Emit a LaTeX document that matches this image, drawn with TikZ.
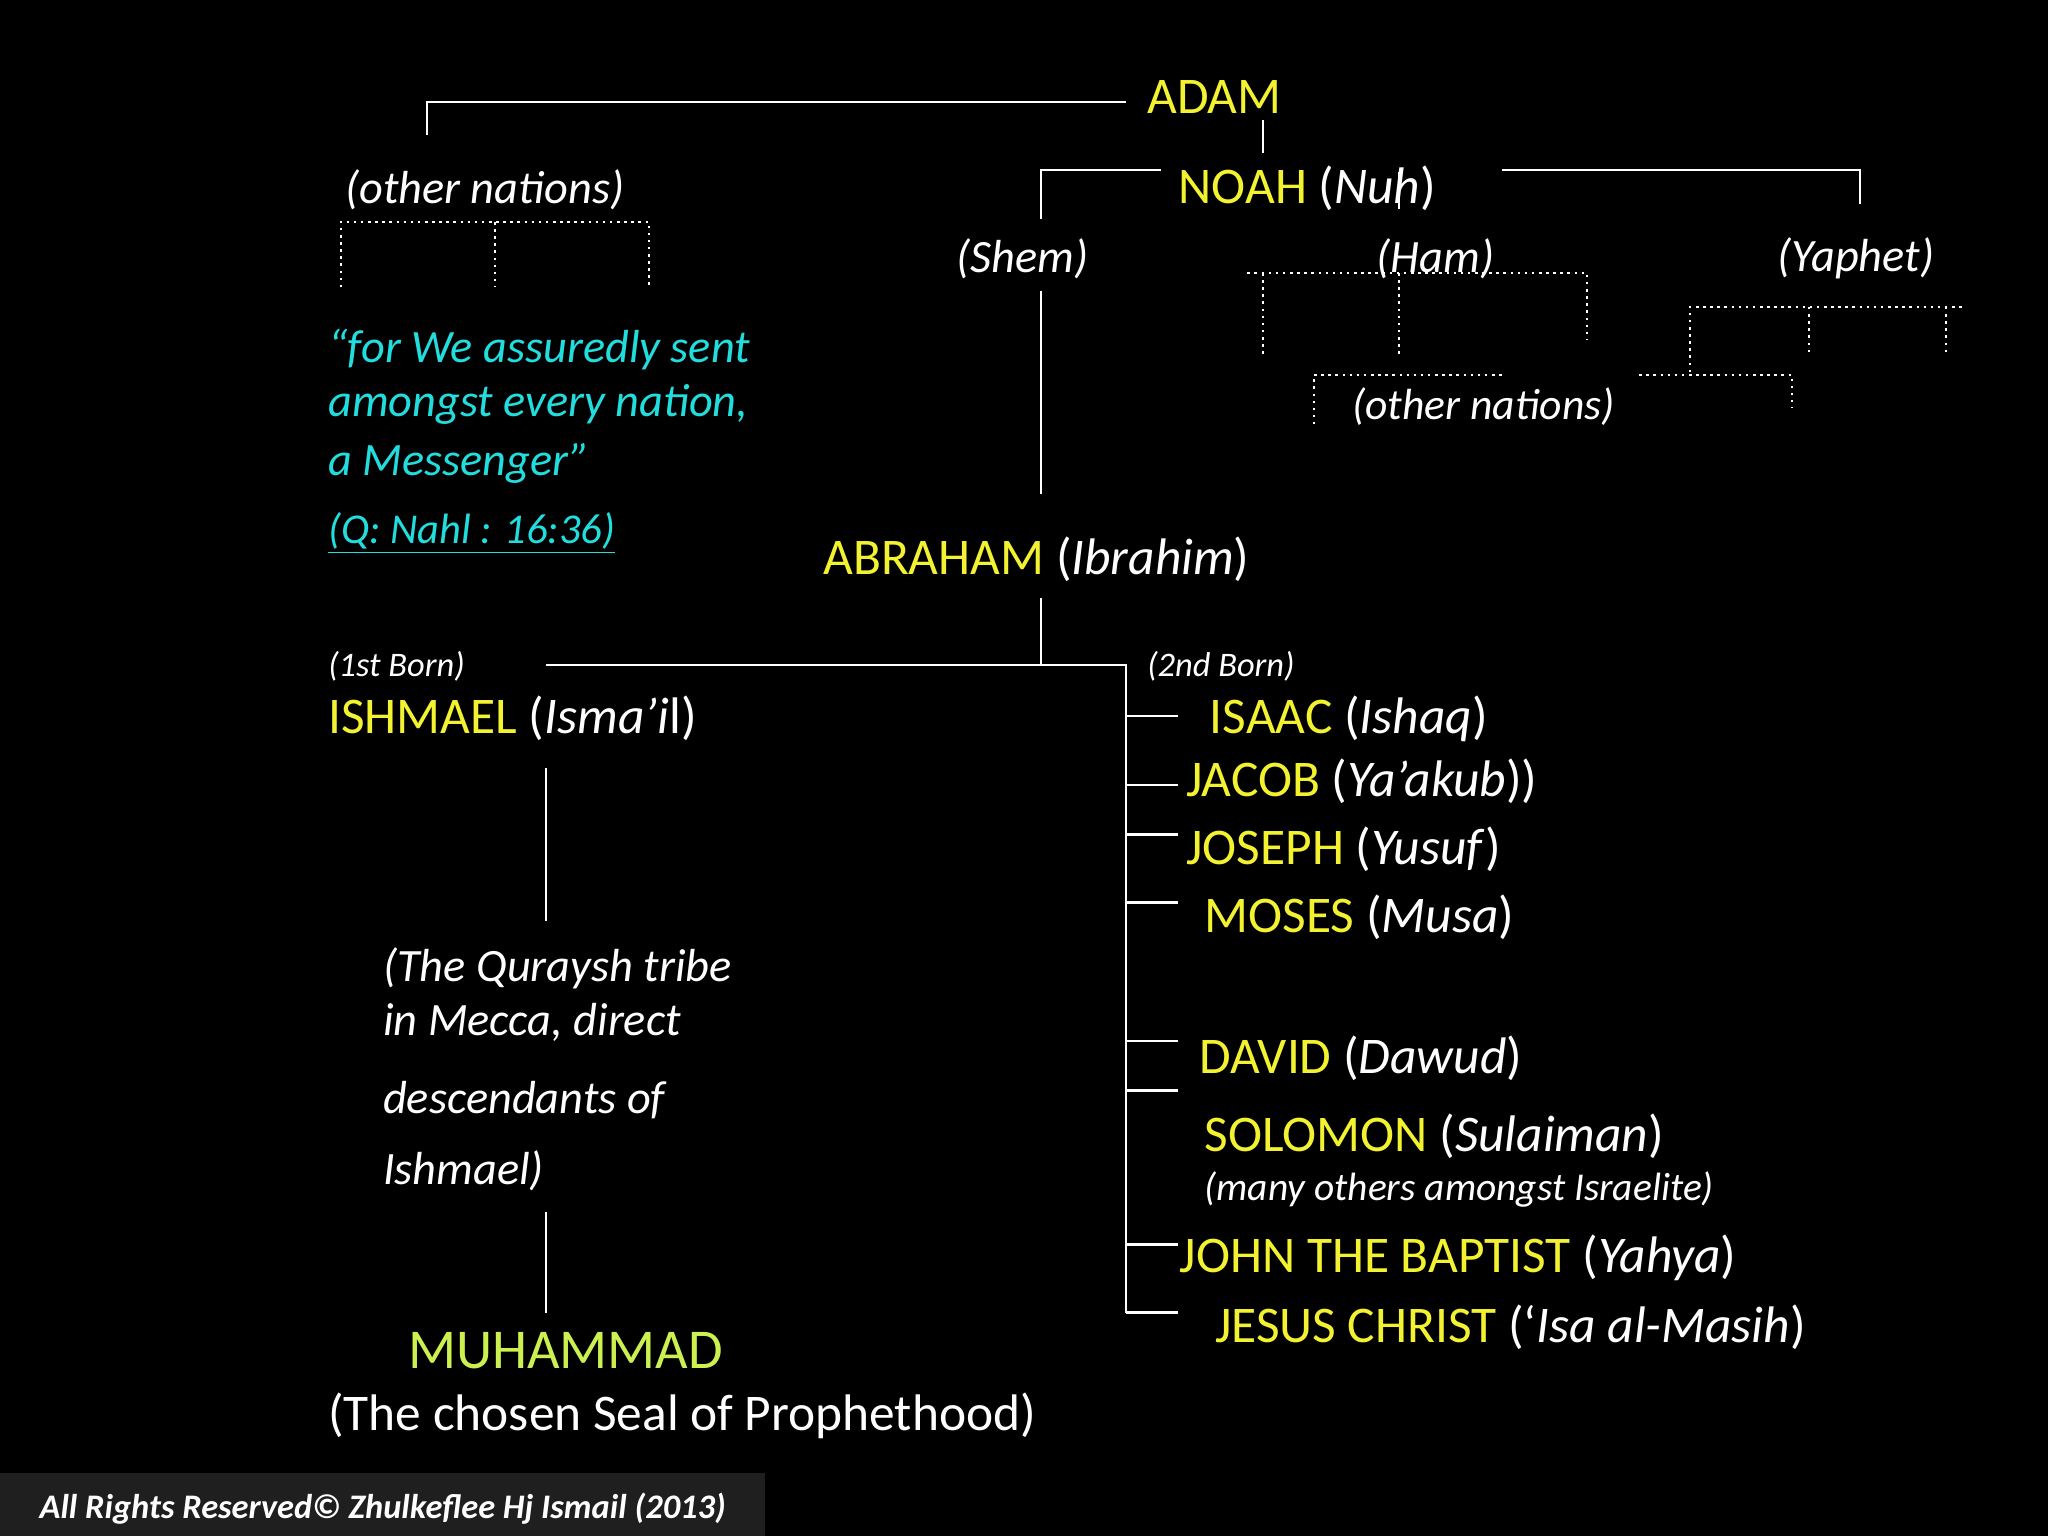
\documentclass[tikz,border=0pt]{standalone}
\usepackage{fontspec}
\setmainfont{Carlito}
\begin{document}
\begin{tikzpicture}[x=0.02cm,y=-0.02cm,
  every node/.style={inner sep=0pt,text=white,anchor=west},
  ln/.style={draw=white,line width=1.1pt},
  dl/.style={draw=white,line width=1.1pt,dotted},
  big/.style={font=\fontsize{22.4}{27}\selectfont},
  mid/.style={font=\fontsize{20.2}{25}\selectfont\itshape},
  sm/.style={font=\fontsize{15}{18}\selectfont\itshape}]
\definecolor{yel}{HTML}{F2F230}
\definecolor{cy}{HTML}{22DDDD}
\definecolor{grn}{HTML}{CCF050}
\fill[black] (0,0) rectangle (1568,1176);
\useasboundingbox (0,0) rectangle (1568,1176);
\fill[black!88!white] (0,1128) rectangle (586,1176);
\node[font=\fontsize{15}{18}\selectfont\bfseries\itshape] (foot) at (30,1155) {All Rights Reserved© Zhulkeflee Hj Ismail (2013)};

\node[big] (adam) at (878,74) {\color{yel}ADAM};
\node[big] (noah) at (902,144) {\color{yel}NOAH \color{white}(\textit{Nuh})};
\node[mid] (on1) at (264,145) {(other nations)};
\node[mid,anchor=center] (shem) at (783,198) {(Shem)};
\node[mid,anchor=center] (ham) at (1099,198) {(Ham)};
\node[mid,anchor=center] (yaph) at (1421,198) {(Yaphet)};
\node[font=\fontsize{19}{23}\selectfont\itshape] (on2) at (1035,311) {(other nations)};

\draw[ln] (327,103) -- (327,78) -- (862,78);
\draw[ln] (967,92) -- (967,117);
\draw[ln] (889,130) -- (797,130) -- (797,168);
\draw[ln] (1150,130) -- (1424,130) -- (1424,156);
\draw[ln] (1071,132) -- (1071,160);
\draw[dl] (261,220) -- (261,170) -- (497,170) -- (497,220);
\draw[dl] (379,170) -- (379,220);
\draw[dl] (955,209) -- (1215,209) -- (1215,260);
\draw[dl] (967,209) -- (967,272);
\draw[dl] (1071,209) -- (1071,272);
\draw[dl] (1006,325) -- (1006,287) -- (1150,287);
\draw[dl] (1294,285) -- (1294,235) -- (1502,235);
\draw[dl] (1385,235) -- (1385,272);
\draw[dl] (1490,235) -- (1490,272);
\draw[dl] (1255,287) -- (1372,287) -- (1372,312);
\draw[ln] (797,223) -- (797,378);

\node[mid,text=cy] (q1) at (251,268) {“for We assuredly sent};
\node[mid,text=cy] (q2) at (251,310) {amongst every nation,};
\node[mid,text=cy] (q3) at (251,355) {a Messenger”};
\node[text=cy,font=\fontsize{18.5}{22}\selectfont\itshape] (q4) at (251,408) {\underline{(Q: Nahl : 16:36)}};

\node[big] (abr) at (630,428) {\color{yel}ABRAHAM \color{white}(\textit{Ibrahim})};
\draw[ln] (797,458) -- (797,509);
\draw[ln] (418,509) -- (862,509) -- (862,1005);
\node[sm] (b1) at (251,510) {(1st Born)};
\node[sm] (b2) at (878,510) {(2nd Born)};
\node[big] (ish) at (251,550) {\color{yel}ISHMAEL \color{white}(\textit{Isma’i}l)};

\foreach \y in {548,601,639,691,797,835,953,1005} \draw[ln] (862,\y) -- (902,\y);
\node[big] (isaac) at (926,550) {\color{yel}ISAAC \color{white}(\textit{Ishaq})};
\node[big] (jacob) at (908,598) {\color{yel}JACOB \color{white}(\textit{Ya’akub}))};
\node[big] (jos) at (908,650) {\color{yel}JOSEPH \color{white}(\textit{Yusuf})};
\node[big] (mos) at (922,702) {\color{yel}MOSES \color{white}(\textit{Musa})};
\node[big] (dav) at (918,810) {\color{yel}DAVID \color{white}(\textit{Dawud})};
\node[big] (sol) at (922,870) {\color{yel}SOLOMON \color{white}(\textit{Sulaiman})};
\node[font=\fontsize{17.2}{20}\selectfont\itshape] (many) at (922,911) {(many others amongst Israelite)};
\node[big] (john) at (903,963) {\color{yel}JOHN THE BAPTIST \color{white}(\textit{Yahya})};
\node[big] (jes) at (930,1016) {\color{yel}JESUS CHRIST \color{white}(‘\textit{Isa al-Masih})};

\draw[ln] (418,588) -- (418,705);
\node[mid] (qu1) at (293,741) {(The Quraysh tribe};
\node[mid] (qu2) at (293,783) {in Mecca, direct};
\node[mid] (qu3) at (293,842) {descendants of};
\node[mid] (qu4) at (293,896) {Ishmael)};
\draw[ln] (418,928) -- (418,1005);
\node[font=\fontsize{24.5}{29}\selectfont,text=grn,anchor=center] (muh) at (433,1034) {MUHAMMAD};
\node[big] (seal) at (251,1084) {(The chosen Seal of Prophethood)};
\end{tikzpicture}
\end{document}
